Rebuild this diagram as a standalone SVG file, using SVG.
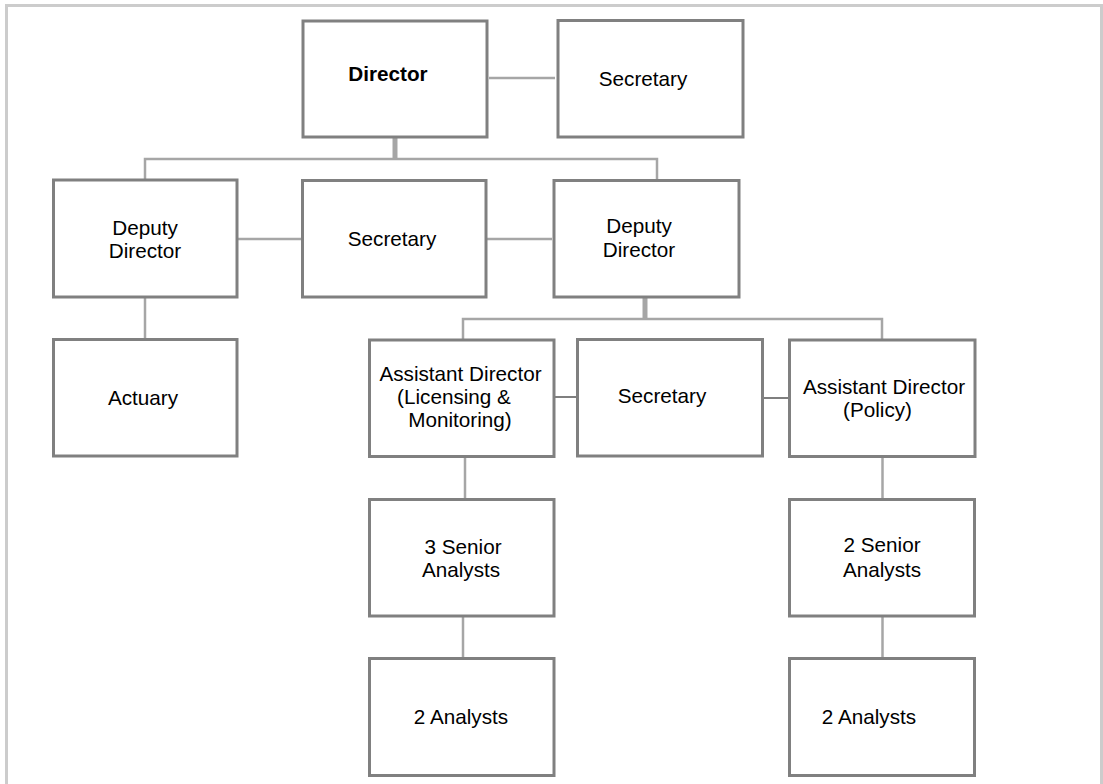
<svg xmlns="http://www.w3.org/2000/svg" width="1103" height="784" viewBox="0 0 1103 784">
<style>
.box{fill:#fff;stroke:#808080;stroke-width:3}
.ln{fill:none;stroke:#a6a6a6;stroke-width:2.5}
.thk{fill:none;stroke:#a6a6a6;stroke-width:5}
.dk{fill:none;stroke:#7f7f7f;stroke-width:2}
text{font-family:"Liberation Sans",Arial,sans-serif;font-size:20.7px;fill:#000;text-anchor:middle}
.b{font-weight:bold}
</style>
<rect x="0" y="0" width="1103" height="784" fill="#fff"/>
<rect x="6.5" y="5.5" width="1095" height="820" fill="none" stroke="#cccccc" stroke-width="3"/>
<g id="connectors">
<line class="ln" x1="489" y1="78" x2="555" y2="78"/>
<line class="thk" x1="395" y1="137" x2="395" y2="159"/>
<polyline class="ln" points="145,180 145,159 657,159 657,180"/>
<line class="ln" x1="238" y1="239" x2="302" y2="239"/>
<line class="ln" x1="486" y1="239" x2="552" y2="239"/>
<line class="ln" x1="145" y1="297" x2="145" y2="339"/>
<line class="thk" x1="645" y1="297" x2="645" y2="319"/>
<polyline class="ln" points="463,340 463,319 882,319 882,340"/>
<line class="dk" x1="554" y1="397" x2="578" y2="397"/>
<line class="dk" x1="763" y1="398" x2="789" y2="398"/>
<line class="ln" x1="465" y1="456" x2="465" y2="500"/>
<line class="ln" x1="882.5" y1="456" x2="882.5" y2="500"/>
<line class="ln" x1="463" y1="616" x2="463" y2="658"/>
<line class="ln" x1="882.5" y1="616" x2="882.5" y2="658"/>
</g>
<g id="director"><rect class="box" x="303" y="21" width="184" height="116"/><text class="b" x="388" y="81">Director</text></g>
<g id="secretary-top"><rect class="box" x="558" y="20.5" width="185" height="116.5"/><text x="643" y="86">Secretary</text></g>
<g id="deputy-left"><rect class="box" x="53.5" y="180" width="183.5" height="117"/><text x="145" y="235">Deputy</text><text x="145" y="258">Director</text></g>
<g id="secretary-mid"><rect class="box" x="302.5" y="180.5" width="183.5" height="116.5"/><text x="392" y="246">Secretary</text></g>
<g id="deputy-right"><rect class="box" x="554" y="180.5" width="185" height="116.5"/><text x="639" y="233">Deputy</text><text x="639" y="257">Director</text></g>
<g id="actuary"><rect class="box" x="53.5" y="339.5" width="183.5" height="116.5"/><text x="143" y="405">Actuary</text></g>
<g id="asst-licensing"><rect class="box" x="369.5" y="340" width="184.5" height="116.5"/><text x="460.5" y="381">Assistant Director</text><text x="454" y="404">(Licensing &amp;</text><text x="460" y="427">Monitoring)</text></g>
<g id="secretary-low"><rect class="box" x="577.5" y="339.5" width="185" height="116.5"/><text x="662" y="403">Secretary</text></g>
<g id="asst-policy"><rect class="box" x="789.5" y="340" width="185.5" height="116.5"/><text x="884" y="394">Assistant Director</text><text x="877.5" y="417">(Policy)</text></g>
<g id="senior-3"><rect class="box" x="369.5" y="499.5" width="184.5" height="116.5"/><text x="463" y="554">3 Senior</text><text x="461" y="577">Analysts</text></g>
<g id="senior-2"><rect class="box" x="789.5" y="499.5" width="185" height="116.5"/><text x="882" y="552">2 Senior</text><text x="882" y="577">Analysts</text></g>
<g id="analysts-left"><rect class="box" x="369.5" y="658.5" width="184.5" height="117"/><text x="461" y="724">2 Analysts</text></g>
<g id="analysts-right"><rect class="box" x="789.5" y="658.5" width="185" height="117"/><text x="869" y="724">2 Analysts</text></g>
</svg>
